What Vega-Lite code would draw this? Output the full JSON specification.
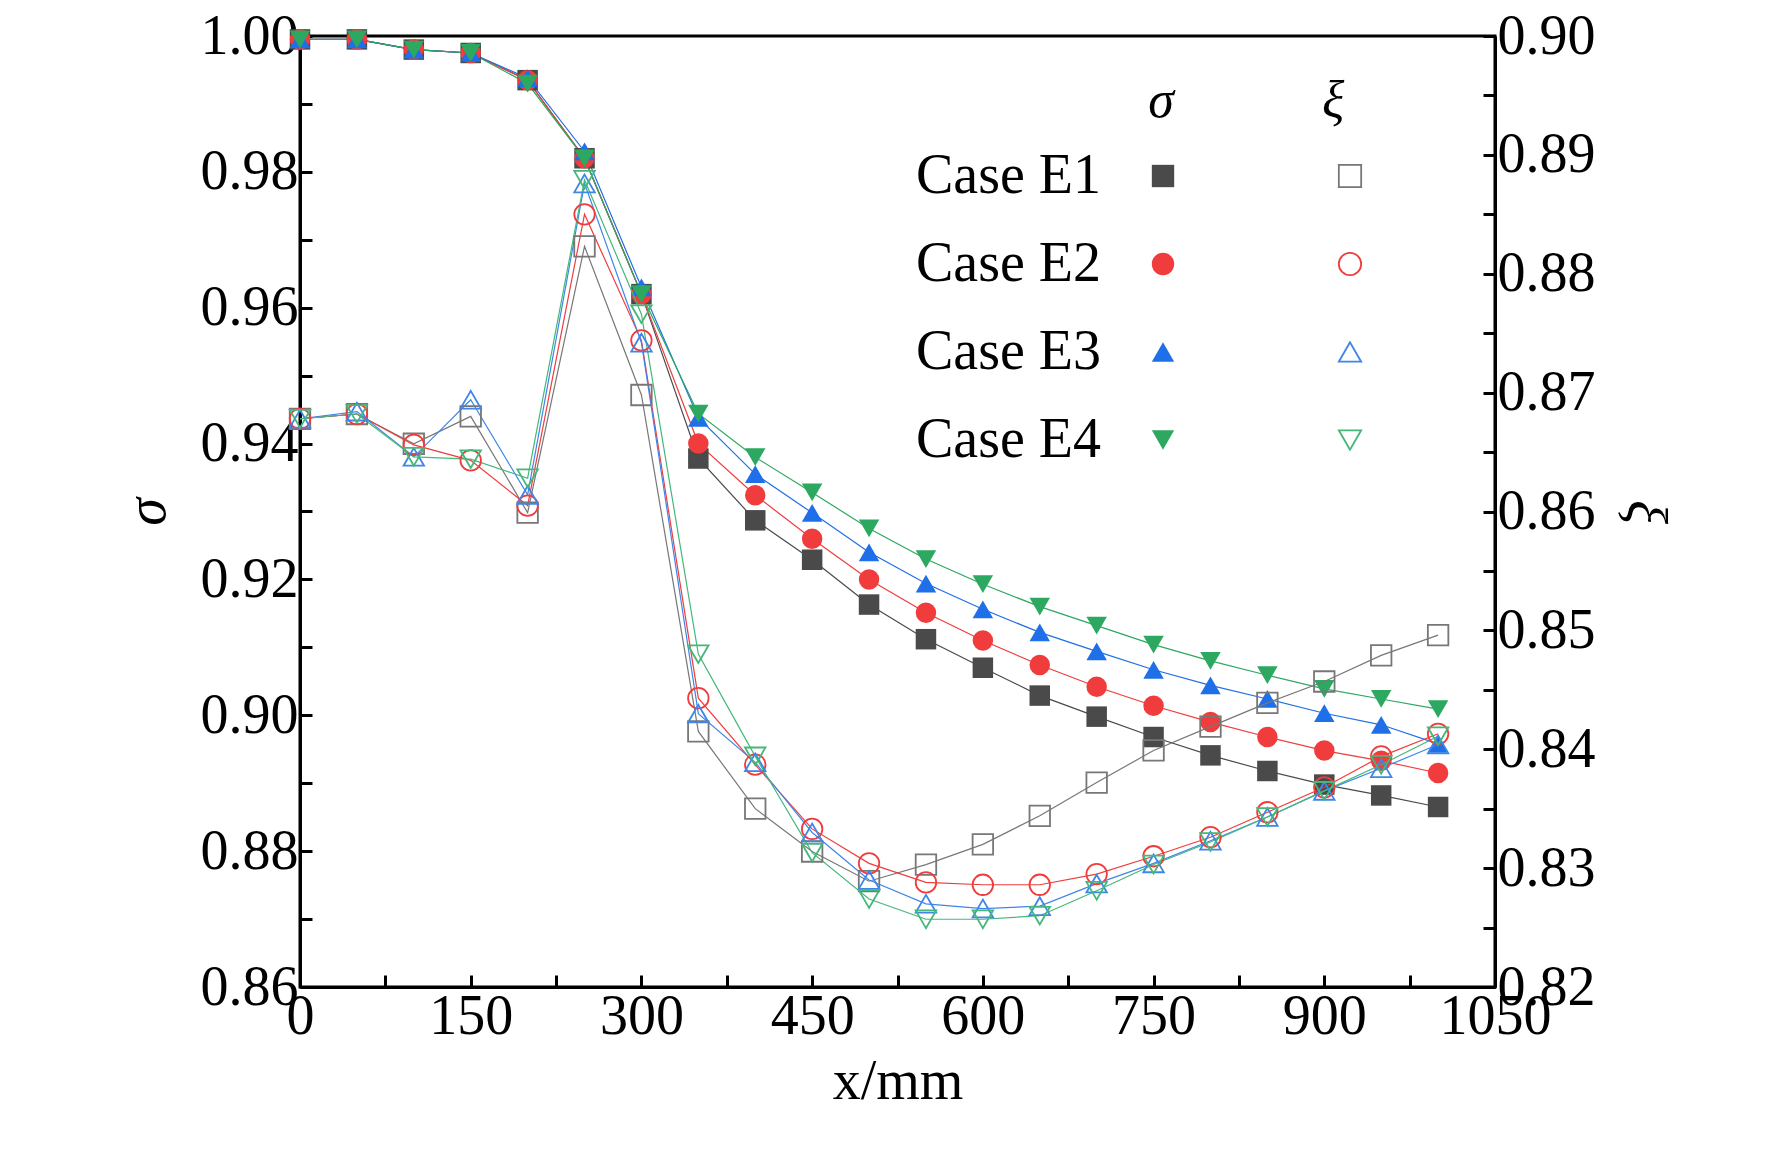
{
  "$schema": "https://vega.github.io/schema/vega-lite/v6.json",
  "width": 1195,
  "height": 951,
  "autosize": "none",
  "padding": {"left": 300, "top": 36, "right": 277, "bottom": 171},
  "background": "white",
  "data": {
    "values": [
      {"x": 0, "case": "Case E1", "sigma": 0.9995, "xi": 0.8678},
      {"x": 50, "case": "Case E1", "sigma": 0.9995, "xi": 0.8682},
      {"x": 100, "case": "Case E1", "sigma": 0.998, "xi": 0.8657},
      {"x": 150, "case": "Case E1", "sigma": 0.9975, "xi": 0.868},
      {"x": 200, "case": "Case E1", "sigma": 0.9935, "xi": 0.8599},
      {"x": 250, "case": "Case E1", "sigma": 0.982, "xi": 0.8823},
      {"x": 300, "case": "Case E1", "sigma": 0.962, "xi": 0.8698},
      {"x": 350, "case": "Case E1", "sigma": 0.9378, "xi": 0.8415},
      {"x": 400, "case": "Case E1", "sigma": 0.9287, "xi": 0.835},
      {"x": 450, "case": "Case E1", "sigma": 0.9229, "xi": 0.8314},
      {"x": 500, "case": "Case E1", "sigma": 0.9163, "xi": 0.8289},
      {"x": 550, "case": "Case E1", "sigma": 0.9112, "xi": 0.8303},
      {"x": 600, "case": "Case E1", "sigma": 0.907, "xi": 0.832},
      {"x": 650, "case": "Case E1", "sigma": 0.9029, "xi": 0.8344},
      {"x": 700, "case": "Case E1", "sigma": 0.8998, "xi": 0.8372},
      {"x": 750, "case": "Case E1", "sigma": 0.8968, "xi": 0.8399},
      {"x": 800, "case": "Case E1", "sigma": 0.8941, "xi": 0.8419},
      {"x": 850, "case": "Case E1", "sigma": 0.8918, "xi": 0.8439},
      {"x": 900, "case": "Case E1", "sigma": 0.8898, "xi": 0.8457},
      {"x": 950, "case": "Case E1", "sigma": 0.8882, "xi": 0.8479},
      {"x": 1000, "case": "Case E1", "sigma": 0.8865, "xi": 0.8496},
      {"x": 0, "case": "Case E2", "sigma": 0.9995, "xi": 0.8678},
      {"x": 50, "case": "Case E2", "sigma": 0.9995, "xi": 0.8682},
      {"x": 100, "case": "Case E2", "sigma": 0.998, "xi": 0.8656},
      {"x": 150, "case": "Case E2", "sigma": 0.9975, "xi": 0.8643},
      {"x": 200, "case": "Case E2", "sigma": 0.9935, "xi": 0.8605},
      {"x": 250, "case": "Case E2", "sigma": 0.982, "xi": 0.885},
      {"x": 300, "case": "Case E2", "sigma": 0.962, "xi": 0.8744},
      {"x": 350, "case": "Case E2", "sigma": 0.94, "xi": 0.8443},
      {"x": 400, "case": "Case E2", "sigma": 0.9324, "xi": 0.8387},
      {"x": 450, "case": "Case E2", "sigma": 0.926, "xi": 0.8333},
      {"x": 500, "case": "Case E2", "sigma": 0.92, "xi": 0.8304},
      {"x": 550, "case": "Case E2", "sigma": 0.9151, "xi": 0.8288},
      {"x": 600, "case": "Case E2", "sigma": 0.911, "xi": 0.8286},
      {"x": 650, "case": "Case E2", "sigma": 0.9074, "xi": 0.8286},
      {"x": 700, "case": "Case E2", "sigma": 0.9042, "xi": 0.8295},
      {"x": 750, "case": "Case E2", "sigma": 0.9014, "xi": 0.831},
      {"x": 800, "case": "Case E2", "sigma": 0.899, "xi": 0.8326},
      {"x": 850, "case": "Case E2", "sigma": 0.8968, "xi": 0.8347},
      {"x": 900, "case": "Case E2", "sigma": 0.8948, "xi": 0.8368},
      {"x": 950, "case": "Case E2", "sigma": 0.8933, "xi": 0.8394},
      {"x": 1000, "case": "Case E2", "sigma": 0.8915, "xi": 0.8413},
      {"x": 0, "case": "Case E3", "sigma": 0.9995, "xi": 0.8678},
      {"x": 50, "case": "Case E3", "sigma": 0.9995, "xi": 0.8684},
      {"x": 100, "case": "Case E3", "sigma": 0.998, "xi": 0.8646},
      {"x": 150, "case": "Case E3", "sigma": 0.9975, "xi": 0.8694},
      {"x": 200, "case": "Case E3", "sigma": 0.9938, "xi": 0.8614},
      {"x": 250, "case": "Case E3", "sigma": 0.983, "xi": 0.8876},
      {"x": 300, "case": "Case E3", "sigma": 0.963, "xi": 0.8742},
      {"x": 350, "case": "Case E3", "sigma": 0.9438, "xi": 0.843},
      {"x": 400, "case": "Case E3", "sigma": 0.9355, "xi": 0.8389},
      {"x": 450, "case": "Case E3", "sigma": 0.9298, "xi": 0.833},
      {"x": 500, "case": "Case E3", "sigma": 0.924, "xi": 0.829},
      {"x": 550, "case": "Case E3", "sigma": 0.9194, "xi": 0.827},
      {"x": 600, "case": "Case E3", "sigma": 0.9156, "xi": 0.8266},
      {"x": 650, "case": "Case E3", "sigma": 0.9122, "xi": 0.8268},
      {"x": 700, "case": "Case E3", "sigma": 0.9094, "xi": 0.8287},
      {"x": 750, "case": "Case E3", "sigma": 0.9067, "xi": 0.8304},
      {"x": 800, "case": "Case E3", "sigma": 0.9044, "xi": 0.8323},
      {"x": 850, "case": "Case E3", "sigma": 0.9024, "xi": 0.8343},
      {"x": 900, "case": "Case E3", "sigma": 0.9003, "xi": 0.8365},
      {"x": 950, "case": "Case E3", "sigma": 0.8986, "xi": 0.8384},
      {"x": 1000, "case": "Case E3", "sigma": 0.8958, "xi": 0.8404},
      {"x": 0, "case": "Case E4", "sigma": 0.9995, "xi": 0.8678},
      {"x": 50, "case": "Case E4", "sigma": 0.9995, "xi": 0.8682},
      {"x": 100, "case": "Case E4", "sigma": 0.998, "xi": 0.8646},
      {"x": 150, "case": "Case E4", "sigma": 0.9975, "xi": 0.8644},
      {"x": 200, "case": "Case E4", "sigma": 0.993, "xi": 0.8628},
      {"x": 250, "case": "Case E4", "sigma": 0.982, "xi": 0.8879},
      {"x": 300, "case": "Case E4", "sigma": 0.962, "xi": 0.8766},
      {"x": 350, "case": "Case E4", "sigma": 0.9444, "xi": 0.848},
      {"x": 400, "case": "Case E4", "sigma": 0.938, "xi": 0.8394},
      {"x": 450, "case": "Case E4", "sigma": 0.9328, "xi": 0.8313},
      {"x": 500, "case": "Case E4", "sigma": 0.9275, "xi": 0.8274},
      {"x": 550, "case": "Case E4", "sigma": 0.923, "xi": 0.8257},
      {"x": 600, "case": "Case E4", "sigma": 0.9193, "xi": 0.8257},
      {"x": 650, "case": "Case E4", "sigma": 0.916, "xi": 0.826},
      {"x": 700, "case": "Case E4", "sigma": 0.9132, "xi": 0.8281},
      {"x": 750, "case": "Case E4", "sigma": 0.9104, "xi": 0.8303},
      {"x": 800, "case": "Case E4", "sigma": 0.908, "xi": 0.8322},
      {"x": 850, "case": "Case E4", "sigma": 0.9059, "xi": 0.8343},
      {"x": 900, "case": "Case E4", "sigma": 0.9039, "xi": 0.8365},
      {"x": 950, "case": "Case E4", "sigma": 0.9024, "xi": 0.8387},
      {"x": 1000, "case": "Case E4", "sigma": 0.9009, "xi": 0.8411}
    ]
  },
  "encoding": {
    "x": {
      "field": "x",
      "type": "quantitative",
      "scale": {"domain": [0, 1050], "nice": false},
      "axis": {
        "title": "x/mm",
        "values": [0, 75, 150, 225, 300, 375, 450, 525, 600, 675, 750, 825, 900, 975, 1050],
        "format": "d",
        "labelExpr": "datum.value % 150 == 0 ? datum.label : ''",
        "labelFlush": false,
        "titlePadding": 10
      }
    }
  },
  "layer": [
    {
      "encoding": {
        "y": {
          "field": "sigma",
          "type": "quantitative",
          "scale": {"domain": [0.86, 1.0], "nice": false, "zero": false},
          "axis": {
            "title": "σ",
            "orient": "left",
            "values": [0.86, 0.87, 0.88, 0.89, 0.9, 0.91, 0.92, 0.93, 0.94, 0.95, 0.96, 0.97, 0.98, 0.99, 1.0],
            "format": ".2f",
            "labelExpr": "round(datum.value * 100) % 2 == 0 ? datum.label : ''",
            "titleFontStyle": "italic",
            "titlePadding": 24
          }
        }
      },
      "layer": [
        {
          "mark": {"type": "line", "strokeWidth": 1.2},
          "encoding": {
            "stroke": {
              "field": "case",
              "type": "nominal",
              "scale": {"range": ["#4a4a4a", "#f03c3c", "#1f6fe8", "#2ca860"]},
              "legend": null
            }
          }
        },
        {
          "mark": {"type": "point", "filled": true, "size": 420, "opacity": 1},
          "encoding": {
            "color": {
              "field": "case",
              "type": "nominal",
              "scale": {"range": ["#4a4a4a", "#f03c3c", "#1f6fe8", "#2ca860"]},
              "legend": {
                "title": "σ",
                "orient": "none",
                "legendX": 835,
                "legendY": 40,
                "labelAlign": "right",
                "labelOffset": -90,
                "titleFontStyle": "italic",
                "titlePadding": 20,
                "titleAnchor": "end"
              }
            },
            "shape": {
              "field": "case",
              "type": "nominal",
              "scale": {"range": ["square", "circle", "triangle-up", "triangle-down"]}
            }
          }
        }
      ]
    },
    {
      "encoding": {
        "y": {
          "field": "xi",
          "type": "quantitative",
          "scale": {"domain": [0.82, 0.9], "nice": false, "zero": false},
          "axis": {
            "title": "ξ",
            "orient": "right",
            "values": [0.82, 0.825, 0.83, 0.835, 0.84, 0.845, 0.85, 0.855, 0.86, 0.865, 0.87, 0.875, 0.88, 0.885, 0.89, 0.895, 0.9],
            "labelExpr": "round(datum.value * 1000) % 10 == 0 ? format(datum.value, '.2f') : ''",
            "titleFontStyle": "italic",
            "titlePadding": 20
          }
        }
      },
      "layer": [
        {
          "mark": {"type": "line", "strokeWidth": 1.2},
          "encoding": {
            "stroke": {
              "field": "case",
              "type": "nominal",
              "scale": {"range": ["#777777", "#f03c3c", "#3f86e8", "#44b87a"]},
              "legend": null
            }
          }
        },
        {
          "mark": {"type": "point", "filled": false, "size": 420, "strokeWidth": 1.8, "opacity": 1},
          "encoding": {
            "color": {
              "field": "case",
              "type": "nominal",
              "scale": {"range": ["#777777", "#f03c3c", "#3f86e8", "#44b87a"]},
              "legend": {
                "title": "ξ",
                "orient": "none",
                "legendX": 1022,
                "legendY": 40,
                "labelExpr": "''",
                "titleFontStyle": "italic",
                "titlePadding": 20,
                "titleAnchor": "start"
              }
            },
            "shape": {
              "field": "case",
              "type": "nominal",
              "scale": {"range": ["square", "circle", "triangle-up", "triangle-down"]}
            }
          }
        }
      ]
    }
  ],
  "resolve": {
    "scale": {"y": "independent", "color": "independent", "shape": "independent", "stroke": "independent"},
    "legend": {"color": "independent", "shape": "independent"}
  },
  "config": {
    "font": "Liberation Serif",
    "view": {"stroke": "black", "strokeWidth": 3},
    "axis": {
      "labelFont": "Liberation Serif",
      "titleFont": "Liberation Serif",
      "labelFontSize": 56,
      "titleFontSize": 56,
      "titleFontWeight": "normal",
      "labelColor": "black",
      "titleColor": "black",
      "domainColor": "black",
      "domainWidth": 3,
      "tickColor": "black",
      "tickWidth": 3,
      "tickSize": -12,
      "labelPadding": 14,
      "grid": false
    },
    "legend": {
      "labelFont": "Liberation Serif",
      "titleFont": "Liberation Serif",
      "labelFontSize": 56,
      "titleFontSize": 52,
      "titleFontWeight": "normal",
      "labelColor": "black",
      "titleColor": "black",
      "symbolSize": 500,
      "symbolStrokeWidth": 1.8,
      "rowPadding": 32,
      "labelLimit": 400
    }
  }
}
